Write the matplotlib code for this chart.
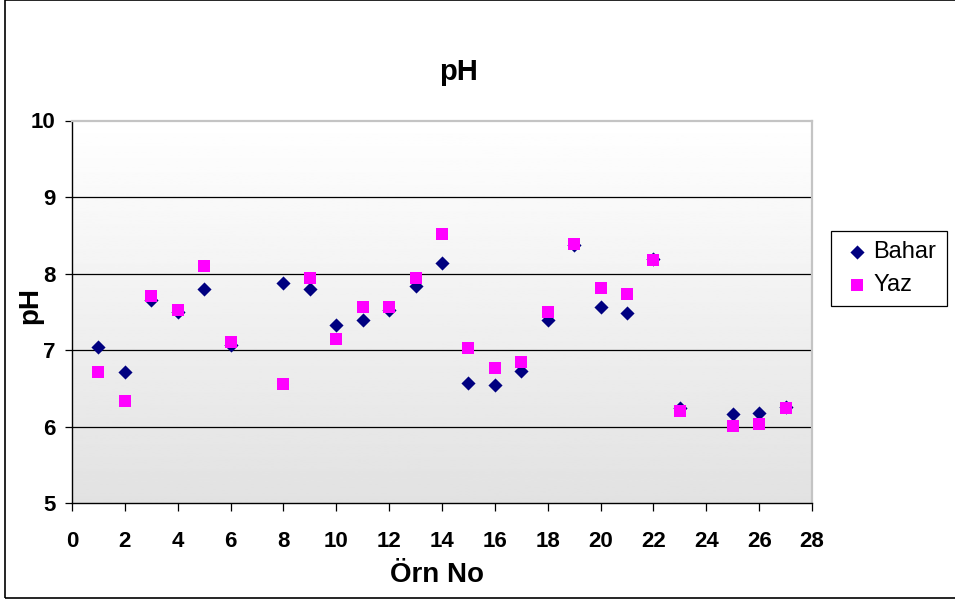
import matplotlib
matplotlib.use("Agg")
import matplotlib.pyplot as plt
import numpy as np
from matplotlib.patches import Rectangle

plt.rcParams["font.family"] = ["Liberation Sans", "DejaVu Sans"]

# sample numbers (Örn No) and pH values
ornNo = [1, 2, 3, 4, 5, 6, 8, 9, 10, 11, 12, 13, 14, 15, 16, 17, 18, 19, 20, 21, 22, 23, 25, 26, 27]
bahar = [7.04, 6.71, 7.66, 7.50, 7.80, 7.07, 7.88, 7.80, 7.33, 7.40, 7.53, 7.84, 8.14,
         6.57, 6.55, 6.73, 7.40, 8.37, 7.57, 7.48, 8.19, 6.24, 6.16, 6.18, 6.26]
yaz = [6.72, 6.33, 7.71, 7.53, 8.10, 7.11, 6.56, 7.94, 7.14, 7.56, 7.56, 7.94, 8.52,
       7.03, 6.77, 6.85, 7.50, 8.39, 7.81, 7.74, 8.18, 6.20, 6.01, 6.04, 6.24]

xTicks = np.arange(0, 29, 2)
yTicks = np.arange(5, 11, 1)

W, H = 955, 601
fig = plt.figure(figsize=(W / 100, H / 100), dpi=100)

# outer chart frame (right edge runs off the picture)
fig.patches.append(Rectangle((4.5 / W, 3.5 / H), 1.2, (H - 3.5) / H, transform=fig.transFigure,
                             fill=False, edgecolor="black", linewidth=1.2))

ax = fig.add_axes([72 / W, (H - 503.3) / H, 740 / W, 382.8 / H])

# grey gradient in the plot area
grad = np.linspace(1.0, 0.885, 256).reshape(-1, 1)
ax.imshow(grad, cmap="gray", vmin=0, vmax=1, aspect="auto",
          extent=[0, 28, 5, 10], origin="upper", zorder=0)

for v in yTicks[1:-1]:
    ax.axhline(v, color="black", lw=0.9, zorder=1)

ax.scatter(ornNo, bahar, marker="D", s=7.2 ** 2, color="#000080", label="Bahar", zorder=3, linewidths=0)
ax.scatter(ornNo, yaz, marker="s", s=8.6 ** 2, color="#FF00FF", label="Yaz", zorder=4, linewidths=0)

ax.set_xlim(0, 28)
ax.set_ylim(5, 10)
ax.set_xticks(xTicks)
ax.set_yticks(yTicks)
ax.tick_params(axis="x", direction="out", length=6, width=0.9, pad=14, labelsize=16)
ax.tick_params(axis="y", direction="out", length=5, width=0.9, pad=7, labelsize=16)
for lab in ax.get_xticklabels() + ax.get_yticklabels():
    lab.set_fontweight("bold")

for s in ["left", "bottom"]:
    ax.spines[s].set_color("black")
    ax.spines[s].set_linewidth(1.0)
for s in ["top", "right"]:
    ax.spines[s].set_color("#c4c4c4")
    ax.spines[s].set_linewidth(1.6)

# titles placed in pixel positions
fig.text(459 / W, 1 - 72 / H, "pH", ha="center", va="center", fontsize=21, fontweight="bold")
fig.text(437 / W, 1 - 575 / H, "Örn No", ha="center", va="center", fontsize=20, fontweight="bold")
fig.text(30 / W, 1 - 305 / H, "pH", ha="center", va="center", fontsize=20, fontweight="bold", rotation=90)

leg = fig.legend(loc="center", bbox_to_anchor=(889 / W, 1 - 268.5 / H), fontsize=17,
                 frameon=True, fancybox=False, edgecolor="black", framealpha=1,
                 handletextpad=0.05, handlelength=1.3, borderpad=0.45, labelspacing=0.45)
leg.get_frame().set_linewidth(0.9)

fig.savefig("out.png", dpi=100)
